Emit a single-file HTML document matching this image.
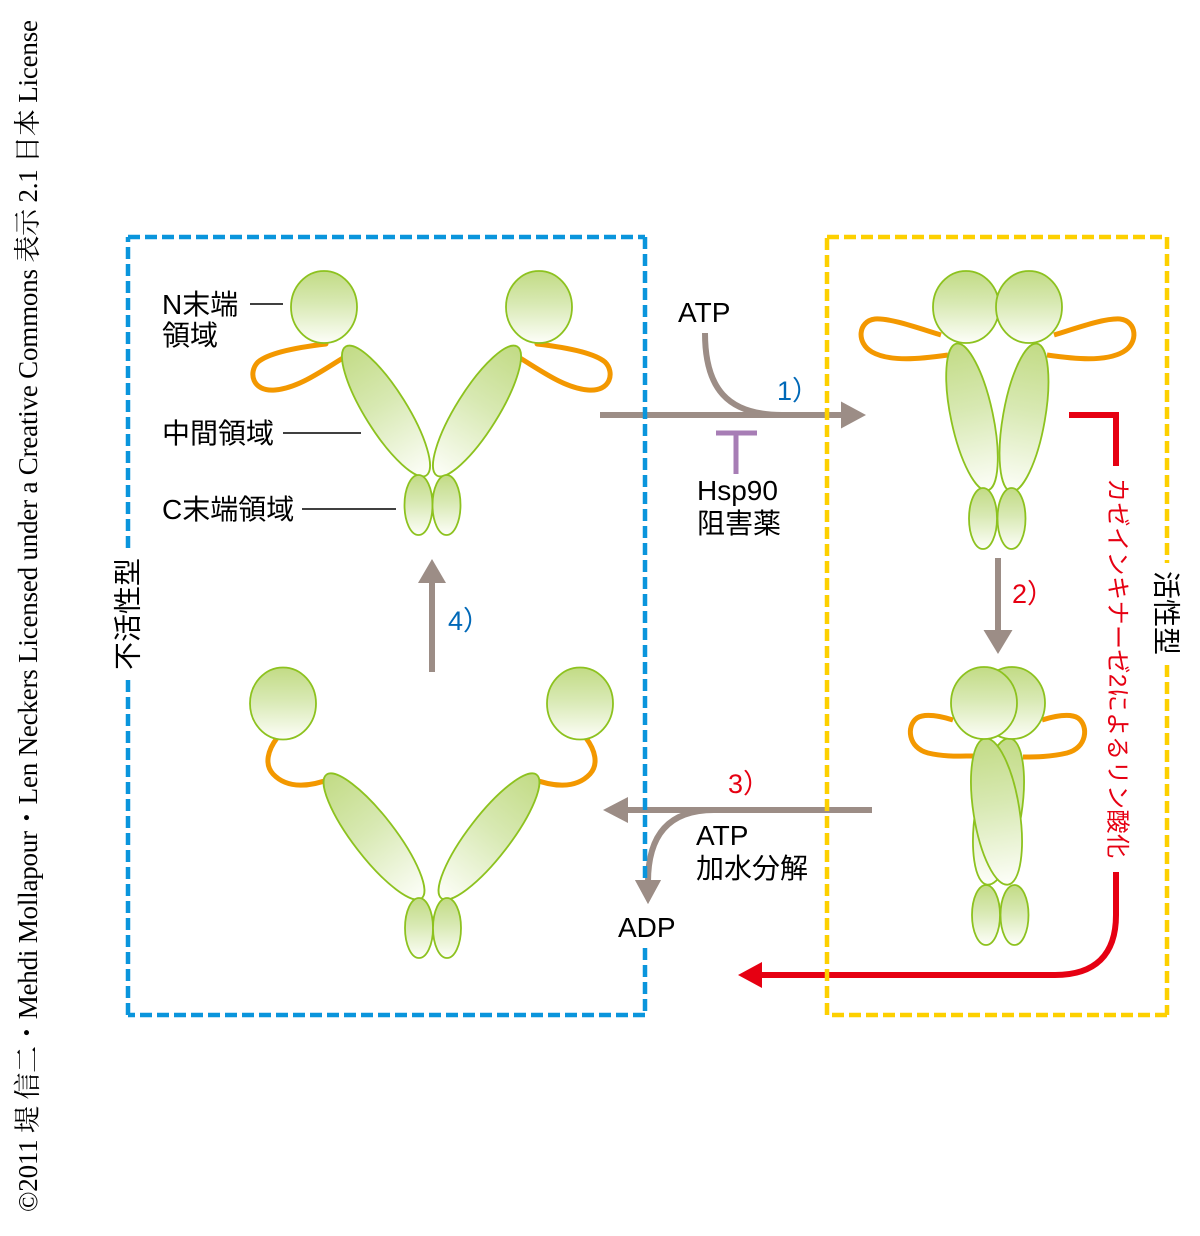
<!DOCTYPE html>
<html>
<head>
<meta charset="utf-8">
<style>
html,body{margin:0;padding:0;background:#fff;}
svg{display:block;}
.s{font-family:"Liberation Sans","Noto Sans CJK JP",sans-serif;}
</style>
</head>
<body>
<svg width="1200" height="1236" viewBox="0 0 1200 1236" xmlns="http://www.w3.org/2000/svg">
<defs>
<linearGradient id="g" x1="0" y1="0" x2="0" y2="1">
<stop offset="0" stop-color="#c2db85"/>
<stop offset="0.45" stop-color="#d8e9b3"/>
<stop offset="1" stop-color="#fdfef9"/>
</linearGradient>
</defs>
<rect width="1200" height="1236" fill="#fff"/>

<!-- copyright -->
<text x="37" y="1212" transform="rotate(-90 37 1212)" font-family="'Liberation Serif','Noto Serif CJK SC',serif" font-size="27" fill="#000" textLength="1192" lengthAdjust="spacing">©2011 堤 信二・Mehdi Mollapour・Len Neckers Licensed under a Creative Commons 表示 2.1 日本 License</text>

<!-- ARROWS -->
<g stroke="#9c8d86" stroke-width="6" fill="none">
<path d="M600 415 H843"/>
<path d="M705 333 C705 388 727 415 782 415"/>
<path d="M998 558 V632"/>
<path d="M872 810 H626"/>
<path d="M714 810 C668 810 648 836 648 882"/>
<path d="M432 672 V581"/>
</g>
<g fill="#9c8d86">
<polygon points="841,401.5 866,415 841,428.5"/>
<polygon points="983.5,630 1012.5,630 998,654"/>
<polygon points="628,797 603,810 628,823"/>
<polygon points="635,880 661,880 648,904"/>
<polygon points="418,583 446,583 432,559"/>
</g>
<!-- inhibitor -->
<g stroke="#a77db5" stroke-width="5" fill="none">
<path d="M716 433 H757"/>
<path d="M736 433 V474"/>
</g>
<!-- red -->
<g stroke="#e60012" stroke-width="6" fill="none">
<path d="M1069 415 H1116 V466"/>
<path d="M1116 872 V915 C1116 955 1095 975 1055 975 H760"/>
</g>
<polygon points="762,962 738,975 762,988" fill="#e60012"/>

<!-- MOLECULE top-left (open) -->
<g stroke="#f39800" stroke-width="5" fill="none" stroke-linecap="round">
<path d="M326 344 C300 347 270 352 258 362 C248 372 252 392 275 390 C298 388 320 372 343 358"/>
<path d="M537 344 C563 347 593 352 605 362 C615 372 611 392 588 390 C565 388 543 372 520 358"/>
</g>
<g fill="url(#g)" stroke="#8dc21f" stroke-width="1.8">
<ellipse cx="386" cy="411" rx="21" ry="76" transform="rotate(-32 386 411)"/>
<ellipse cx="477" cy="411" rx="21" ry="76" transform="rotate(32 477 411)"/>
<ellipse cx="418.5" cy="505" rx="14" ry="30"/>
<ellipse cx="446.5" cy="505" rx="14" ry="30"/>
<ellipse cx="324" cy="307" rx="33" ry="36"/>
<ellipse cx="539" cy="307" rx="33" ry="36"/>
</g>

<!-- labels top-left -->
<g class="s" font-size="28" fill="#000">
<text x="162" y="314">N末端</text>
<text x="162" y="345">領域</text>
<text x="162" y="443">中間領域</text>
<text x="162" y="519">C末端領域</text>
</g>
<g stroke="#000" stroke-width="1.5">
<path d="M250 304 H283"/>
<path d="M283 433 H361"/>
<path d="M302 509 H396"/>
</g>

<!-- MOLECULE bottom-left -->
<g stroke="#f39800" stroke-width="5" fill="none" stroke-linecap="round">
<path d="M277 738 C268 750 264 764 273 774 C288 790 312 786 330 779"/>
<path d="M586 738 C595 750 599 764 590 774 C575 790 551 786 533 779"/>
</g>
<g fill="url(#g)" stroke="#8dc21f" stroke-width="1.8">
<ellipse cx="374" cy="836.5" rx="21" ry="78" transform="rotate(-37.6 374 836.5)"/>
<ellipse cx="489" cy="836.5" rx="21" ry="78" transform="rotate(37.6 489 836.5)"/>
<ellipse cx="419" cy="928" rx="14" ry="30"/>
<ellipse cx="447" cy="928" rx="14" ry="30"/>
<ellipse cx="283" cy="703.5" rx="33" ry="36"/>
<ellipse cx="580" cy="703.5" rx="33" ry="36"/>
</g>

<!-- MOLECULE top-right (closed) -->
<g stroke="#f39800" stroke-width="5" fill="none" stroke-linecap="butt">
<path d="M941 335 C915 327 890 318 875 319 C858 321 856 343 872 352 C890 362 920 359 948 355"/>
<path d="M1054 335 C1080 327 1105 318 1120 319 C1137 321 1139 343 1123 352 C1105 362 1075 359 1047 355"/>
</g>
<g fill="url(#g)" stroke="#8dc21f" stroke-width="1.8">
<ellipse cx="972" cy="417" rx="21" ry="75" transform="rotate(-12 972 417)"/>
<ellipse cx="1024" cy="417.5" rx="21" ry="75" transform="rotate(10 1024 417.5)"/>
<ellipse cx="983" cy="518.5" rx="14" ry="30.5"/>
<ellipse cx="1011.5" cy="518.5" rx="14" ry="30.5"/>
<ellipse cx="966" cy="307" rx="33" ry="36"/>
<ellipse cx="1029" cy="307" rx="33" ry="36"/>
</g>

<!-- MOLECULE bottom-right (closed, twisted) -->
<g stroke="#f39800" stroke-width="5" fill="none">
<path d="M953 720 C940 716 925 713 917 718 C906 726 908 748 928 753 C945 757 960 756 973 756"/>
<path d="M1042 720 C1055 716 1070 713 1078 718 C1089 726 1087 748 1067 753 C1050 757 1035 757 1023 757"/>
</g>
<g fill="url(#g)" stroke="#8dc21f" stroke-width="1.8">
<ellipse cx="998.5" cy="811.5" rx="23" ry="74" transform="rotate(9 998.5 811.5)"/>
<ellipse cx="996.5" cy="811.5" rx="23" ry="74" transform="rotate(-9 996.5 811.5)"/>
<ellipse cx="986" cy="915" rx="14" ry="30"/>
<ellipse cx="1014.5" cy="915" rx="14" ry="30"/>
<ellipse cx="1012" cy="703" rx="33" ry="36"/>
<ellipse cx="984" cy="703" rx="33" ry="36"/>
</g>

<!-- dashed boxes -->
<g stroke="#0a95dc" stroke-width="4.5" fill="none" stroke-dasharray="12 5">
<path d="M128 237 H645"/>
<path d="M645 237 V880"/>
<path d="M645 948 V1015"/>
<path d="M645 1015 H128"/>
<path d="M128 1015 V680"/>
<path d="M128 548 V237"/>
</g>
<g stroke="#fdd000" stroke-width="4.5" fill="none" stroke-dasharray="12 5">
<path d="M827 237 H1167"/>
<path d="M1167 237 V563"/>
<path d="M1167 665 V1015"/>
<path d="M1167 1015 H827"/>
<path d="M827 1015 V237"/>
</g>

<!-- redraw ADP arrowhead above box -->
<polygon points="635,880 661,880 648,904" fill="#9c8d86"/>

<!-- arrow labels -->
<g class="s" font-size="28" fill="#000">
<text x="678" y="322">ATP</text>
<text x="697" y="500">Hsp90</text>
<text x="697" y="533">阻害薬</text>
<text x="696" y="845">ATP</text>
<text x="696" y="878">加水分解</text>
<text x="618" y="937">ADP</text>
</g>
<g class="s" font-size="27">
<text x="777" y="400" fill="#0068b7">1）</text>
<text x="1012" y="603" fill="#e60012">2）</text>
<text x="728" y="793" fill="#e60012">3）</text>
<text x="448" y="630" fill="#0068b7">4）</text>
</g>

<!-- vertical labels -->
<text class="s" x="128" y="670" transform="rotate(-90 128 670)" font-size="28" fill="#000" dominant-baseline="central">不活性型</text>
<text class="s" x="1166" y="571" transform="rotate(90 1166 571)" font-size="28" fill="#000" dominant-baseline="central">活性型</text>
<text class="s" x="1117" y="478" transform="rotate(90 1117 478)" font-size="24" fill="#e60012" dominant-baseline="central" textLength="380" lengthAdjust="spacing">カゼインキナーゼ2によるリン酸化</text>
</svg>
</body>
</html>
